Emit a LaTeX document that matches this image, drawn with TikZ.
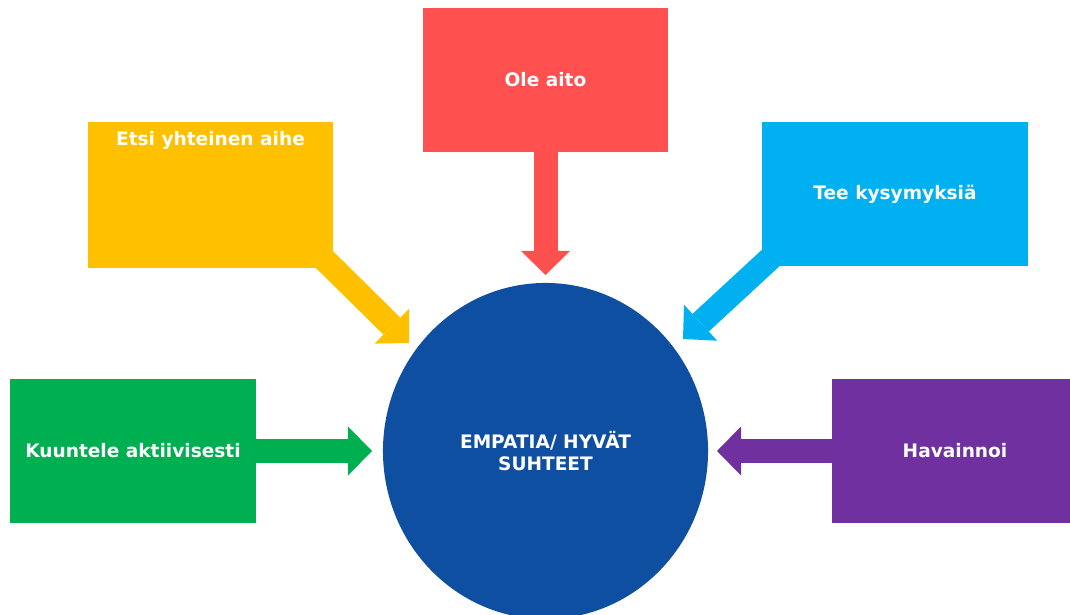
\documentclass[tikz,border=0pt]{standalone}
\usepackage{fontspec}
\setmainfont{DejaVu Sans}
\usetikzlibrary{arrows.meta,shapes.geometric}

\definecolor{aitored}{HTML}{FF5050}
\definecolor{aiheyellow}{HTML}{FFC000}
\definecolor{kysyblue}{HTML}{00B0F0}
\definecolor{kuuntgreen}{HTML}{00B050}
\definecolor{havpurple}{HTML}{7030A0}
\definecolor{empblue}{HTML}{0F4FA1}

\tikzset{
    box/.style={draw=none, minimum height=3.6cm, inner sep=0pt},
    txt/.style={text=white, font=\fontsize{13.2pt}{15pt}\selectfont\bfseries, align=center},
    fat/.style={line width=0.6cm, shorten <=-0.4cm,
        -{Triangle[width=1.225cm, length=0.6cm, line width=0pt]}}
}

\begin{document}
\begin{tikzpicture}[x=0.025cm, y=-0.025cm]
    \useasboundingbox (0,0) rectangle (1070,615);

    \node[box, fill=aitored, minimum width=6.125cm, txt] (aito) at (545.5,80) {Ole aito};
    \node[box, fill=aiheyellow, minimum width=6.125cm, minimum height=3.65cm,
        label={[txt, anchor=base, yshift=-0.6cm]north:Etsi yhteinen aihe}] (aihe) at (210.5,195) {};
    \node[box, fill=kysyblue, minimum width=6.65cm, txt] (kysy) at (895,194) {Tee kysymyksiä};
    \node[box, fill=kuuntgreen, minimum width=6.15cm, txt] (kuunt) at (133,451) {Kuuntele aktiivisesti};
    \node[box, fill=havpurple, minimum width=5.95cm] (hav) at (951,451) {};
    \node[txt] at (955,451) {Havainnoi};

    \node[ellipse, fill=empblue, minimum width=8.125cm, minimum height=8.4cm, txt] (emp)
        at (545.5,451) {EMPATIA/ HYVÄT\\SUHTEET};

    \coordinate (tipaito) at (545.5,275);
    \coordinate (tipaihe) at (409,343);
    \coordinate (tipkysy) at (683,339);
    \coordinate (tipkuunt) at (372,451);
    \coordinate (tiphav) at (717,451);

    \draw[fat, aitored] (aito.south) -- (tipaito);
    \draw[fat, aiheyellow] (aihe.south east) -- (tipaihe);
    \draw[fat, kysyblue] (kysy.south west) -- (tipkysy);
    \draw[fat, kuuntgreen] (kuunt.east) -- (tipkuunt);
    \draw[fat, havpurple] (hav.west) -- (tiphav);
\end{tikzpicture}
\end{document}
